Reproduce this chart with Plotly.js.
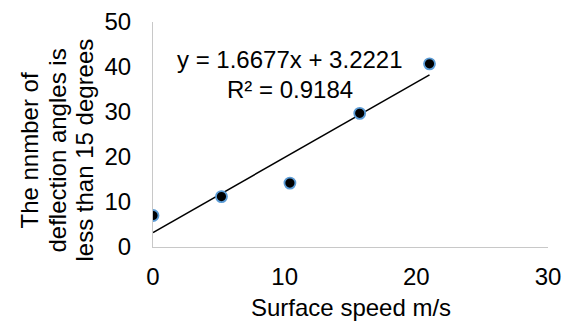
<!DOCTYPE html>
<html>
<head>
<meta charset="utf-8">
<script src="https://cdn.plot.ly/plotly-3.0.1.min.js"></script>
<style>html,body{margin:0;padding:0;background:#fff}#chart{width:571px;height:322px}</style>
</head>
<body>
<div id="chart"></div>
<script>
const speeds = [0, 5.2, 10.4, 15.7, 21.0];
const counts = [7.0, 11.2, 14.2, 29.7, 40.7];
const slope = 1.6677;
const intercept = 3.2221;
const r2 = 0.9184;
const xTicks = [0, 10, 20, 30];
const yTicks = [0, 10, 20, 30, 40, 50];
const xTitle = 'Surface speed m/s';
const yTitleLines = ['The nnmber of', 'deflection angles is', 'less than 15 degrees'];

const xMin = Math.min(...speeds), xMax = Math.max(...speeds);
const trendX = [xMin, xMax];
const trendY = trendX.map(v => slope * v + intercept);

const font = {family: 'Liberation Sans, Arial, sans-serif', color: '#000'};
const F = s => Object.assign({size: s}, font);

const traces = [
  {x: trendX, y: trendY, mode: 'lines', line: {color: '#000', width: 1.5}, hoverinfo: 'skip', showlegend: false},
  {x: speeds, y: counts, mode: 'markers', showlegend: false,
   marker: {color: '#000', size: 11, line: {color: '#5B9BD5', width: 1.8}}}
];

const yShifts = [-124, -96, -69];
const annotations = [
  {xref: 'x', yref: 'y', x: 10.4, y: 41.6, text: 'y = ' + slope + 'x + ' + intercept, showarrow: false, font: F(24)},
  {xref: 'x', yref: 'y', x: 10.4, y: 35.0, text: 'R² = ' + r2, showarrow: false, font: F(24)},
  {xref: 'paper', yref: 'paper', x: 0.5, y: 0, yanchor: 'middle', yshift: -60, text: xTitle, showarrow: false,
   font: F(24), borderpad: 0}
];
yTitleLines.forEach((t, i) => annotations.push({
  xref: 'paper', yref: 'paper', x: 0, y: 0.5, xanchor: 'center', yanchor: 'middle',
  xshift: yShifts[i], yshift: -16, textangle: -90, text: t, showarrow: false, font: F(24)
}));

const layout = {
  width: 571, height: 322,
  margin: {l: 153, r: 23, t: 22, b: 75},
  paper_bgcolor: '#fff', plot_bgcolor: '#fff',
  font: F(24),
  xaxis: {range: [0, 30], tickvals: xTicks, ticktext: xTicks.map(String), showgrid: false, zeroline: false,
          showline: true, linecolor: '#c8c8c8', linewidth: 1, ticks: '', ticklabelstandoff: 8,
          tickfont: F(24), fixedrange: true},
  yaxis: {range: [0, 50], tickvals: yTicks, ticktext: yTicks.map(String), showgrid: false, zeroline: false,
          showline: true, linecolor: '#c8c8c8', linewidth: 1, ticks: '', ticklabelstandoff: 16,
          tickfont: F(24), fixedrange: true},
  annotations: annotations
};

Plotly.newPlot('chart', traces, layout, {displayModeBar: false, staticPlot: true});
</script>
</body>
</html>
